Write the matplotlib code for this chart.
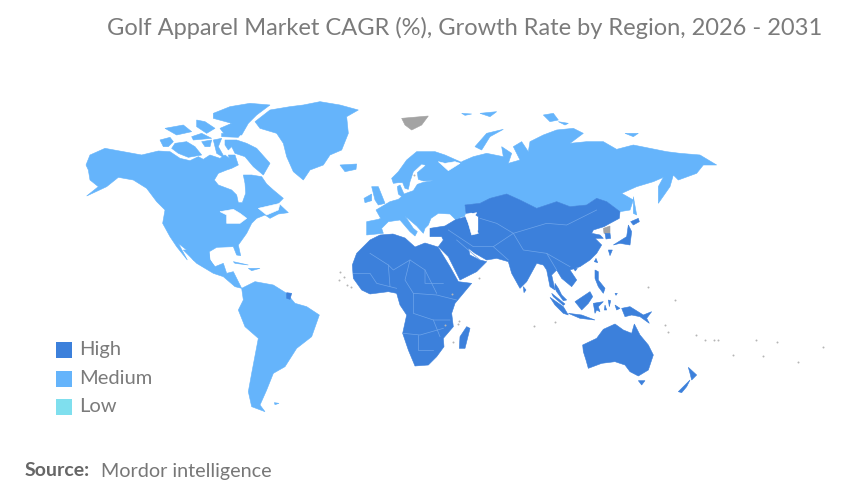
import matplotlib
matplotlib.use("Agg")
import matplotlib.pyplot as plt
from matplotlib.patches import Polygon, Rectangle

TITLE = "Golf Apparel Market CAGR (%), Growth Rate by Region, 2026 - 2031"
LEGEND_LABELS = ["High", "Medium", "Low"]
LEGEND_COLORS = ["#3C80DB", "#65B4FB", "#7FDFEE"]
GRAY = "#A3A3A3"

# outlines are traced in magnified reference crops: (origin x, origin y) + points at 3x
NA_ORIGIN = (70, 90)
AR_ORIGIN = (150, 100)
EU_ORIGIN = (380, 90)
WE_ORIGIN = (360, 150)
SA_ORIGIN = (180, 250)
OC_ORIGIN = (500, 250)
SE_ORIGIN = (540, 260)

north_america = [(48,225),(60,195),(105,175),(160,185),(215,195),(265,183),(300,185),(330,205),(360,212),(385,200),(400,208),(420,195),(450,205),(465,195),(478,205),(475,195),(495,195),(505,225),(485,235),(470,240),(445,250),(433,270),(445,285),(485,300),(500,315),(505,338),(517,338),(527,310),(525,280),(520,255),(545,255),(575,260),(590,282),(610,300),(640,325),(625,340),(655,368),(625,372),(600,385),(585,375),(560,385),(545,400),(530,430),(505,465),(512,497),(500,495),(490,470),(440,472),(418,485),(420,510),(445,548),(400,530),(370,510),(350,480),(325,460),(352,510),(320,470),(300,440),(278,400),(285,360),(260,335),(230,295),(190,270),(145,262),(110,290),(50,318),(85,290),(60,270),(55,240)]
arctic_islands = [
 [(30,120),(60,112),(70,125),(55,140),(40,140)],
 [(65,145),(75,130),(110,125),(135,140),(155,165),(115,172),(85,160)],
 [(155,125),(185,120),(180,140),(165,140)],
 [(190,120),(215,115),(205,140),(225,175),(200,160)],
 [(225,120),(260,120),(290,130),(320,145),(360,190),(340,225),(310,200),(285,170),(255,160),(245,140),(235,150),(225,135)],
 [(45,85),(100,75),(125,95),(80,105)],
 [(140,60),(165,65),(195,85),(170,100),(140,80)],
 [(190,40),(240,20),(300,10),(360,15),(320,45),(295,70),(275,105),(225,105),(210,85),(245,70),(190,55)],
 [(125,110),(155,100),(185,115),(130,120)],
 [(215,100),(270,105),(265,112),(215,110)],
]
north_atlantic = [
 [(555,95),(600,60),(660,50),(700,45),(750,35),(810,45),(865,60),(830,80),(835,130),(815,180),(780,195),(760,225),(720,240),(700,270),(670,245),(650,200),(640,160),(620,130),(570,115)],
 [(810,225),(860,222),(858,238),(825,245)],
 [(905,290),(925,290),(945,340),(925,345),(915,330)],
 [(882,325),(905,312),(905,332),(885,338)],
]
na_white = [
 [(450,365),(490,358),(510,370),(530,385),(510,400),(470,400),(470,375)],
 [(565,355),(630,340),(625,360),(590,375)],
]
central_america = [(10,0),(50,40),(100,70),(130,80),(165,110),(185,115),(170,85),(160,65),(140,70),(130,40),(105,50),(90,30),(85,0)]
south_america = [(185,115),(225,95),(280,105),(320,130),(345,160),(380,170),(418,195),(395,260),(350,295),(315,350),(280,370),(260,420),(240,465),(255,485),(215,470),(205,425),(215,370),(235,265),(195,230),(175,180),(190,150)]
caribbean = [[(160,35),(205,45),(165,40)],[(205,55),(240,55),(215,62)],[(283,458),(297,460),(285,464)]]
french_guiana = [(320,128),(335,130),(330,148),(320,145)]

west_europe = [(20,215),(55,208),(62,205),(48,180),(90,155),(115,148),(125,140),(115,132),(112,110),(120,105),(132,132),(160,122),(172,103),(190,97),(220,92),(190,93),(175,88),(172,68),(198,46),(185,42),(160,65),(150,95),(145,118),(135,115),(128,98),(115,98),(100,100),(95,85),(115,65),(140,30),(170,5),(225,5),(255,15),(300,35),(310,40),(300,205),(288,210),(270,192),(235,190),(213,205),(205,225),(195,235),(190,250),(170,228),(135,198),(160,235),(172,245),(165,258),(150,245),(120,210),(85,215),(65,235),(70,250),(20,255)]
white_sea = [(235,35),(255,40),(285,35),(300,40),(265,62)]
russia = [(228,385),(258,378),(255,345),(300,340),(330,325),(380,312),(420,330),(470,355),(530,335),(570,350),(620,345),(650,325),(680,335),(720,365),(750,360),(760,330),(725,310),(770,290),(820,275),(850,262),(835,290),(835,340),(870,290),(880,255),(895,270),(950,250),(970,225),(1010,225),(960,195),(900,190),(860,185),(810,175),(760,165),(710,178),(670,155),(620,155),(570,160),(610,130),(580,115),(530,120),(490,135),(450,155),(445,185),(425,155),(400,170),(420,210),(385,220),(395,190),(365,170),(370,200),(320,190),(280,200),(245,215)]
medium_islands = [
 [(285,170),(320,130),(370,118),(330,140),(305,180)],
 [(490,75),(520,70),(535,90),(510,95)],[(535,95),(565,100),(555,105)],
 [(735,130),(775,130),(760,140)],[(245,70),(275,72),(255,76)],[(300,70),(350,65),(330,80)],
 [(760,320),(770,375),(760,370)],
]
asia = [(150,415),(195,408),(225,390),(258,380),(270,415),(290,435),(295,420),(295,380),(275,368),(258,370),(255,345),(300,340),(330,325),(380,312),(420,330),(470,355),(530,335),(570,350),(620,345),(650,325),(680,335),(720,365),(718,385),(690,400),(672,410),(640,420),(635,430),(660,435),(670,445),(645,445),(665,465),(650,490),(630,510),(600,530),(570,540),(590,570),(575,590),(545,565),(530,540),(515,555),(525,600),(510,590),(500,540),(490,525),(470,520),(440,575),(420,595),(395,550),(385,515),(350,505),(320,510),(285,490),(265,475),(270,495),(300,510),(320,515),(290,545),(240,570),(205,500),(175,470),(190,450),(185,440),(150,440)]
caspian = [(255,375),(290,368),(275,395),(295,430),(275,435),(265,400)]
korea_north = [(670,415),(690,408),(690,430),(672,430)]
korea_south = [(675,430),(690,430),(692,445),(678,447)]
japan = [
 [(752,395),(775,385),(778,395),(760,405)],
 [(700,465),(740,440),(745,405),(755,425),(750,465),(720,460)],
 [(685,480),(697,480),(690,497)],[(648,505),(653,518),(643,515)],
]
svalbard = [(65,85),(145,78),(125,105),(95,120),(75,105)]
oceania = [
 [(248,285),(290,265),(310,238),(345,222),(370,240),(395,250),(403,222),(420,255),(445,285),(460,315),(445,360),(415,378),(390,365),(375,345),(345,335),(305,340),(265,355),(258,330),(250,305)],
 [(415,392),(435,392),(425,405)],
 [(565,352),(590,375),(575,390),(570,370)],[(535,425),(570,390),(560,410),(545,428)],
 [(70,110),(78,120),(72,128)],
]
southeast_asia = [
 [(45,70),(55,85),(65,105),(80,120),(70,122),(50,95),(45,85)],
 [(30,112),(70,140),(85,165),(70,160),(45,135)],
 [(35,100),(75,132),(70,136),(40,110)],
 [(85,160),(125,165),(165,180),(120,175)],
 [(105,125),(150,95),(158,110),(145,130),(125,150)],
 [(160,130),(190,125),(175,140),(180,155),(170,150),(165,160)],
 [(165,30),(175,35),(175,60),(195,85),(190,100),(175,80),(165,55)],
 [(245,145),(270,140),(310,165),(335,155),(320,175),(328,190),(300,170),(275,165),(255,170)],
 [(100,25),(112,25),(106,33)],[(205,120),(212,122),(208,140)],[(225,135),(240,145),(230,150)],
 [(195,135),(200,150),(193,150)],[(225,100),(232,100),(228,106)],
]
africa = [(517,45),(530,10),(570,-30),(600,-45),(639,-48),(675,-36),(705,-9),(735,-21),(774,-9),(810,50),(835,95),(875,100),(825,160),(815,190),(820,230),(790,265),(792,290),(770,320),(745,345),(705,348),(685,300),(668,250),(680,195),(660,165),(650,130),(625,125),(570,132),(545,120),(520,85)]
madagascar = [(860,230),(870,235),(855,295),(838,295),(840,260)]
africa_borders = [
 [(520,70),(570,70),(590,100),(650,115)],[(570,10),(625,45),(640,60),(690,30),(735,60),(735,100),(790,100)],
 [(625,45),(630,110)],[(690,30),(675,90),(700,130),(770,135),(830,150)],[(735,60),(770,130)],
 [(700,130),(700,190),(760,210),(810,210)],[(670,250),(720,255),(790,235)],[(715,255),(715,300),(760,300)],[(760,210),(780,260)],
]
asia_borders = [
 [(300,385),(350,400),(400,430),(500,400),(560,405),(650,360)],[(400,430),(430,480),(500,490),(530,540)],
 [(205,420),(280,470),(340,470),(400,430)],[(340,470),(385,510)],[(230,450),(300,510)],[(500,490),(570,530)],
]
island_specks_x = [340,344,339,347,351,445,459,458,453,452,479,534,555,665,668,696,705,718,756,777,823,763,798,733,714,675,648,414]
island_specks_y = [272,277,280,285,287,325,321,324,342,294,278,326,322,325,332,335,340,340,340,342,347,356,362,355,340,300,287,175]


def pts(origin, outline):
    return [(origin[0] + x / 3, origin[1] + y / 3) for x, y in outline]


fig = plt.figure(figsize=(8.5, 5), dpi=100)
ax = fig.add_axes([0, 0, 1, 1])
ax.set_xlim(0, 850)
ax.set_ylim(500, 0)
ax.axis("off")


def fill(origin, outline, color, z=2):
    ax.add_patch(Polygon(pts(origin, outline), closed=True, facecolor=color, edgecolor=color, linewidth=0.4, zorder=z))


HIGH, MEDIUM, _ = LEGEND_COLORS
fill(NA_ORIGIN, north_america, MEDIUM)
for p in arctic_islands:
    fill(AR_ORIGIN, p, MEDIUM)
for p in north_atlantic:
    fill(NA_ORIGIN, p, MEDIUM)
for p in na_white:
    fill(NA_ORIGIN, p, "white", 3)
fill(SA_ORIGIN, central_america, MEDIUM)
fill(SA_ORIGIN, south_america, MEDIUM)
for p in caribbean:
    fill(SA_ORIGIN, p, MEDIUM)
fill(SA_ORIGIN, french_guiana, HIGH, 3)
fill(WE_ORIGIN, west_europe, MEDIUM)
fill(EU_ORIGIN, russia, MEDIUM)
fill(WE_ORIGIN, white_sea, "white", 3)
for p in medium_islands:
    fill(EU_ORIGIN, p, MEDIUM)
fill(EU_ORIGIN, asia, HIGH, 3)
fill(EU_ORIGIN, caspian, "white", 4)
fill(EU_ORIGIN, korea_north, GRAY, 4)
fill(EU_ORIGIN, korea_south, HIGH, 4)
for p in japan:
    fill(EU_ORIGIN, p, HIGH)
fill(EU_ORIGIN, svalbard, GRAY)
for p in oceania:
    fill(OC_ORIGIN, p, HIGH)
for p in southeast_asia:
    fill(SE_ORIGIN, p, HIGH)
fill(SA_ORIGIN, africa, HIGH)
fill(SA_ORIGIN, madagascar, HIGH)
for line in africa_borders:
    ax.plot(*zip(*pts(SA_ORIGIN, line)), color="#6FA5EA", lw=0.5, zorder=5)
for line in asia_borders:
    ax.plot(*zip(*pts(EU_ORIGIN, line)), color="#6FA5EA", lw=0.5, zorder=5)
ax.scatter(island_specks_x, island_specks_y, s=2, color="#B5B5B5", linewidths=0, zorder=2)

ax.text(465, 28, TITLE, ha="center", va="center", fontsize=17, color="#7B7B7B", family="Lato")
for i, (lab, col) in enumerate(zip(LEGEND_LABELS, LEGEND_COLORS)):
    y = 350 + 28.5 * i
    ax.add_patch(Rectangle((56, y - 8), 16, 16, facecolor=col, edgecolor="none"))
    ax.text(79, y - 0.5, lab, ha="left", va="center", fontsize=14.5, color="#7B7B7B", family="Lato")
ax.text(25, 471, "Source:", ha="left", va="center", fontsize=14, color="#666666", family="Lato", weight="bold")
ax.text(101, 471, "Mordor intelligence", ha="left", va="center", fontsize=14.2, color="#777777", family="Lato")
fig.savefig("out.png", dpi=100)
